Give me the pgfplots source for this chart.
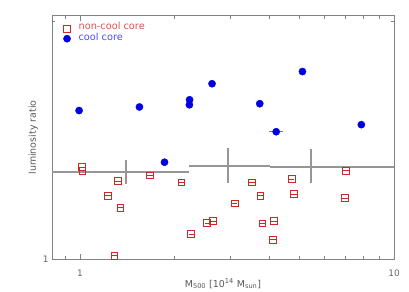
\documentclass[border=0pt]{standalone}
\usepackage{pgfplots}
\pgfplotsset{compat=1.18}
\usepackage{fontspec}
\setmainfont{DejaVu Sans}
\definecolor{ncc}{RGB}{205,40,40}
\definecolor{ccb}{RGB}{0,0,225}
\definecolor{bingray}{RGB}{150,150,150}
\definecolor{axgray}{RGB}{130,130,130}
\begin{document}
\begin{tikzpicture}
\path[use as bounding box] (0,0) rectangle (409bp,292bp);
\begin{axis}[
  at={(52bp,32.7bp)}, anchor=south west,
  scale only axis, width=342bp, height=243.6bp,
  xmode=log, ymode=log,
  xmin=0.814, xmax=10, ymin=1, ymax=2.03,
  axis line style={axgray, line width=0.6pt},
  tick style={axgray, line width=0.5pt},
  xtick={1,10}, xticklabels={1,10},
  minor xtick={0.9,2,3,4,5,6,7,8,9},
  ytick={1}, yticklabels={1},
  minor ytick={2},
  major tick length=5bp, minor tick length=3bp,
  tick align=inside, xtick pos=both, ytick pos=both,
  ticklabel style={font=\fontsize{9}{10}\selectfont, text=gray!80!black},
  xticklabel style={yshift=-7bp},
  /pgf/number format/assume math mode=true,
  xlabel={M\textsubscript{500} [10\textsuperscript{14} M\textsubscript{sun}]},
  ylabel={luminosity ratio},
  label style={font=\fontsize{9.5}{10}\selectfont, text=gray!70!black},
  xlabel style={yshift=5bp},
  ylabel style={yshift=-2bp},
  clip=true,
]
% binned means
\addplot[bingray, line width=2pt] coordinates {(0.7,1.289) (2.217,1.289)};
\addplot[bingray, line width=2pt] coordinates {(1.402,1.244) (1.402,1.335)};
\addplot[bingray, line width=2pt] coordinates {(2.217,1.313) (4.02,1.313)};
\addplot[bingray, line width=2pt] coordinates {(2.953,1.248) (2.953,1.381)};
\addplot[bingray, line width=2pt] coordinates {(4.02,1.309) (11,1.309)};
\addplot[bingray, line width=2pt] coordinates {(5.45,1.248) (5.45,1.377)};
% non-cool core
\addplot[only marks, mark=square, mark size=3.4bp, ncc, mark options={line width=0.9pt},
  error bars/.cd, x dir=both, x fixed relative=0.02, error bar style={line width=0.7pt, ncc}, error mark=none]
  coordinates {
  (1.015,1.307) (1.017,1.294) (1.319,1.256) (1.226,1.203) (1.345,1.162)
  (1.287,1.0105) (1.673,1.276) (2.105,1.250) (2.262,1.076) (2.543,1.111)
  (2.658,1.117) (3.108,1.176) (3.532,1.250) (3.754,1.203) (3.81,1.110)
  (4.152,1.117) (4.121,1.059) (4.725,1.263) (4.796,1.209) (7.03,1.294)
  (6.98,1.195)};
% cool core
\addplot[only marks, mark=*, mark size=3.6bp, ccb,
  error bars/.cd, x dir=both, x explicit, error bar style={line width=0.8pt, blue!60}, error mark=none]
  coordinates {
  (0.993,1.541) (1.546,1.557) (2.233,1.590) (2.23,1.567) (2.633,1.666)
  (3.736,1.572) (5.11,1.726) (4.214,1.449) +- (0.21,0) (7.87,1.479) (1.858,1.326)};
% legend
\addplot[only marks, mark=square, mark size=3.4bp, ncc, mark options={line width=0.9pt}] coordinates {(0.909,1.955)};
\addplot[only marks, mark=*, mark size=3.6bp, ccb] coordinates {(0.909,1.899)};
\node[anchor=west, text=ncc!80, font=\fontsize{9.8}{10}\selectfont, inner sep=0pt] at (axis cs:0.988,1.972) {non-cool core};
\node[anchor=west, text=blue!70, font=\fontsize{9.8}{10}\selectfont, inner sep=0pt] at (axis cs:0.988,1.911) {cool core};
\end{axis}
\end{tikzpicture}
\end{document}
